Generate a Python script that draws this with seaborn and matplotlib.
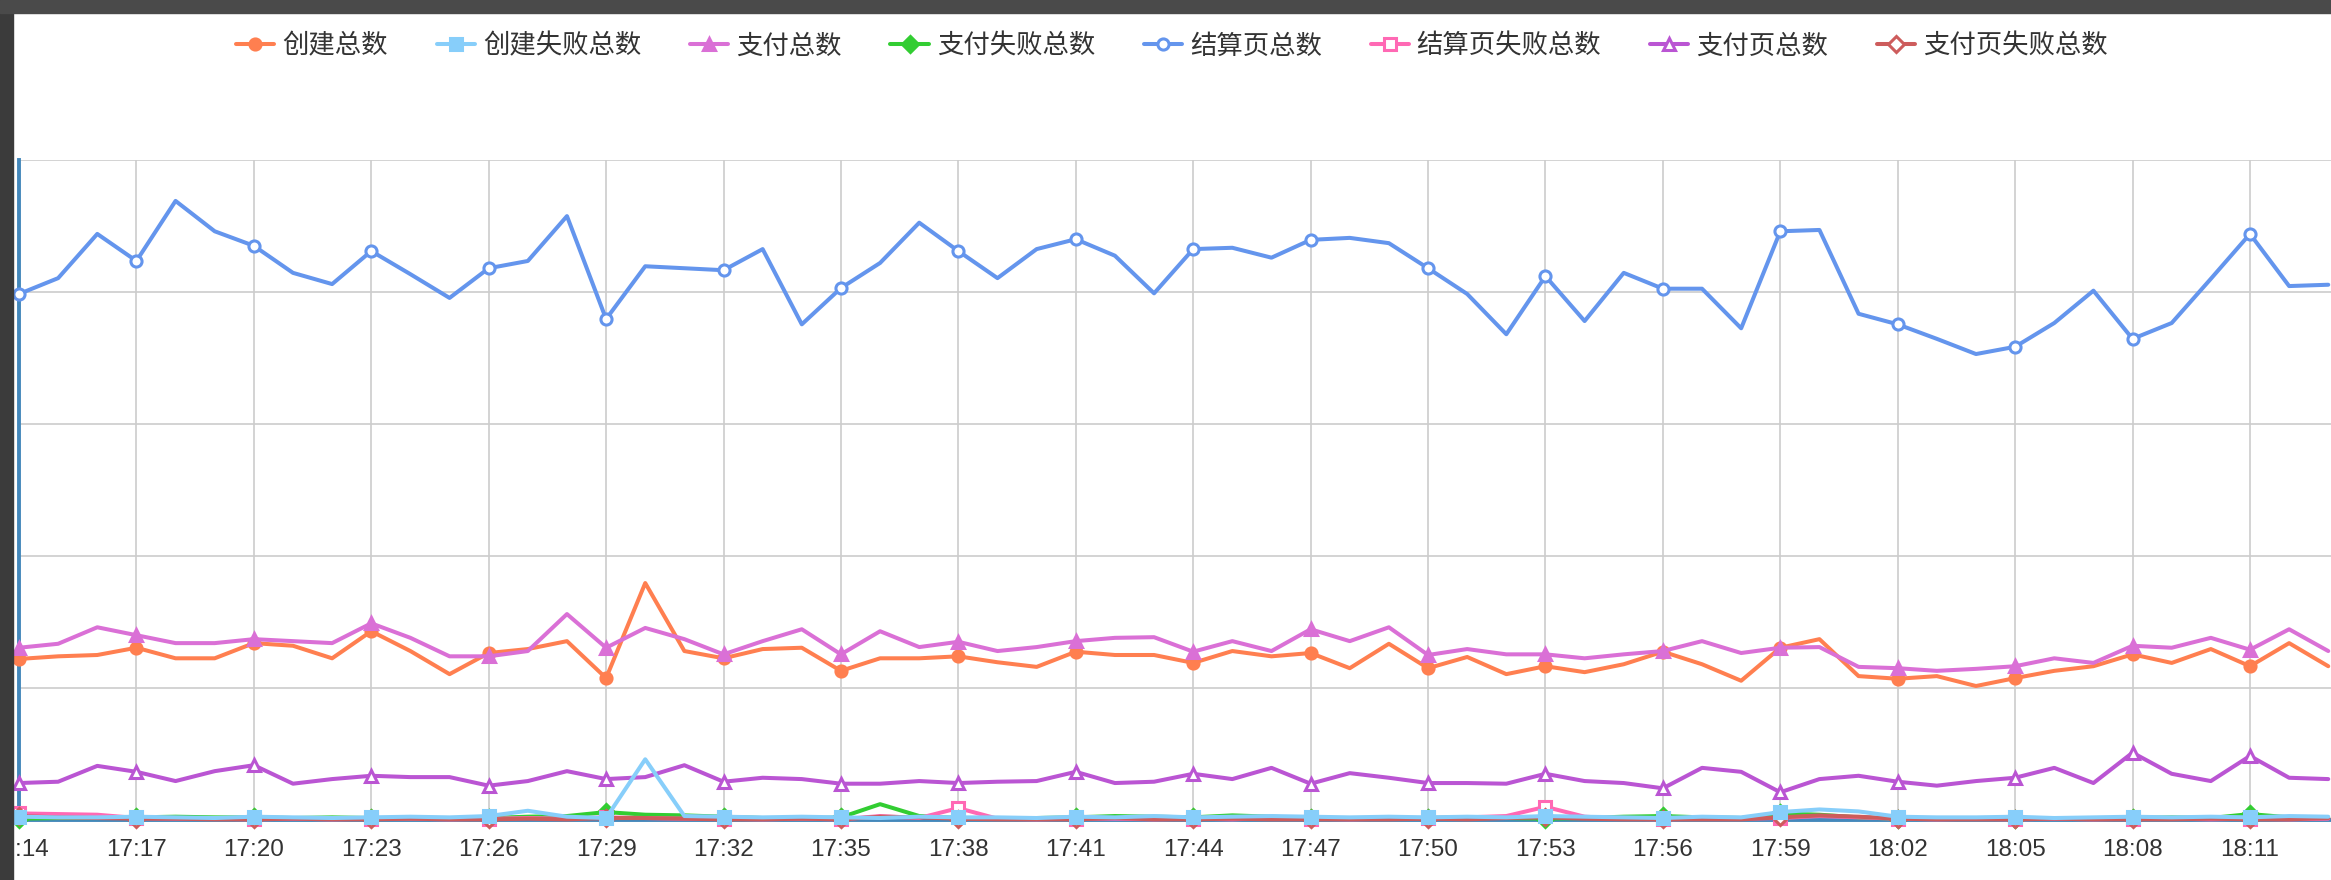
import numpy as np
import pandas as pd
import matplotlib
matplotlib.use("Agg")
import matplotlib.pyplot as plt
from matplotlib.patches import Rectangle
import seaborn as sns

# --- datos (un punto por minuto, 17:14 -> 18:13) ---
minutos = pd.date_range("2000-01-01 17:14", periods=60, freq="min").strftime("%H:%M").tolist()

chuangjian_zongshu = [244, 248, 250, 261, 245, 245, 268, 264, 245, 286, 256, 221, 253, 259, 271, 215, 359, 256, 245, 259,
                      261, 226, 245, 245, 248, 239, 232, 255, 250, 250, 238, 256, 248, 253, 230, 267, 230, 247, 221, 233,
                      224, 236, 255, 236, 211, 261, 274, 218, 214, 218, 203, 215, 226, 233, 251, 238, 259, 233, 268, 233]
chuangjian_shibai = [5, 4, 4, 5, 4, 3, 5, 4, 3, 4, 5, 4, 6, 14, 5, 3, 92, 6, 5, 4,
                     5, 4, 3, 5, 4, 4, 3, 5, 4, 6, 4, 5, 6, 5, 4, 5, 4, 5, 4, 6,
                     5, 4, 3, 5, 4, 12, 16, 13, 5, 4, 4, 5, 3, 4, 5, 4, 5, 4, 6, 5]
zhifu_zongshu = [261, 267, 292, 280, 268, 268, 274, 271, 268, 298, 276, 248, 248, 256, 312, 261, 291, 274, 251, 271,
                 289, 251, 286, 262, 270, 256, 262, 271, 276, 277, 255, 271, 256, 289, 271, 292, 250, 259, 251, 251,
                 245, 251, 256, 271, 253, 261, 262, 232, 230, 226, 229, 233, 245, 238, 264, 261, 276, 258, 289, 256]
zhifu_shibai = [2, 3, 3, 4, 5, 4, 4, 3, 4, 3, 2, 3, 3, 5, 6, 12, 8, 7, 5, 3,
                2, 4, 24, 6, 3, 2, 3, 4, 6, 5, 4, 7, 5, 3, 3, 2, 3, 4, 3, 2,
                3, 5, 6, 4, 3, 10, 8, 4, 2, 2, 3, 2, 3, 2, 3, 4, 3, 9, 4, 3]
jiesuanye_zongshu = [797, 821, 888, 847, 938, 892, 870, 829, 812, 862, 827, 791, 836, 847, 915, 759, 839, 836, 833, 865,
                     751, 806, 844, 905, 862, 821, 865, 880, 855, 798, 865, 867, 852, 879, 882, 874, 836, 797, 736, 824,
                     756, 829, 805, 805, 745, 892, 894, 767, 751, 729, 706, 717, 753, 802, 729, 753, 820, 888, 809, 811]
jiesuanye_shibai = [10, 9, 8, 3, 2, 2, 1, 2, 1, 2, 2, 1, 2, 3, 2, 4, 3, 2, 2, 1,
                    2, 1, 6, 3, 18, 2, 1, 2, 2, 1, 2, 1, 3, 2, 1, 2, 3, 4, 6, 20,
                    5, 2, 1, 2, 2, 3, 6, 4, 2, 1, 2, 1, 2, 1, 2, 2, 1, 2, 1, 2]
zhifuye_zongshu = [56, 58, 82, 73, 59, 74, 83, 55, 62, 67, 65, 65, 52, 59, 74, 62, 65, 83, 58, 64,
                   62, 55, 55, 59, 56, 58, 59, 73, 56, 58, 70, 62, 79, 55, 71, 64, 56, 56, 55, 70,
                   59, 56, 48, 79, 73, 42, 62, 67, 58, 52, 59, 64, 79, 56, 102, 70, 59, 97, 64, 62]
zhifuye_shibai = [6, 4, 3, 2, 2, 1, 1, 2, 1, 1, 2, 1, 1, 2, 1, 3, 3, 2, 1, 1,
                  2, 1, 5, 4, 2, 1, 1, 1, 3, 1, 1, 2, 1, 1, 1, 1, 2, 1, 3, 4,
                  2, 1, 1, 1, 1, 4, 7, 5, 2, 1, 1, 1, 2, 1, 1, 1, 2, 1, 1, 3]

nombres = ["创建总数", "创建失败总数", "支付总数", "支付失败总数",
           "结算页总数", "结算页失败总数", "支付页总数", "支付页失败总数"]
series = [chuangjian_zongshu, chuangjian_shibai, zhifu_zongshu, zhifu_shibai,
          jiesuanye_zongshu, jiesuanye_shibai, zhifuye_zongshu, zhifuye_shibai]
colores = ["#ff7f50", "#87cefa", "#da70d6", "#32cd32", "#6495ed", "#ff69b4", "#ba55d3", "#cd5c5c"]
marcadores = ["o", "s", "^", "D", "o", "s", "^", "D"]
vacios = [False, False, False, False, True, True, True, True]
capas = [3, 5, 3, 3, 3, 3, 3, 3]  # la serie celeste queda encima en la base

# --- estilo ---
sns.set_theme(style="white")
plt.rcParams["font.family"] = ["Noto Sans CJK SC", "DejaVu Sans"]

W, H = 2331, 880
fig = plt.figure(figsize=(W / 100, H / 100), dpi=100)
fig.patch.set_facecolor("white")

x0, y_top, y_bot = 19, 160, 820
ax = fig.add_axes([x0 / W, (H - y_bot) / H, (W - x0) / W, (y_bot - y_top) / H])

x = np.arange(len(minutos))
for nombre, valores, color, m, vacio, z in zip(nombres, series, colores, marcadores, vacios, capas):
    sns.lineplot(x=x, y=valores, ax=ax, color=color, lw=2.9, marker=m, markevery=3,
                 markersize=8, markeredgewidth=2.2, markeredgecolor=color,
                 markerfacecolor="white" if vacio else color,
                 label=nombre, clip_on=False, zorder=z)

ax.set_xlim(0, (W - x0) / 39.14)
ax.set_ylim(0, 1000)
ax.set_yticks(np.arange(0, 1001, 200))
ax.set_yticklabels([])
ax.tick_params(axis="y", length=0)
ax.set_xticks(x[::3])
ax.set_xticklabels(minutos[::3], fontfamily="Liberation Sans", fontsize=17.5, color="#333333")
ax.tick_params(axis="x", length=7, width=1, color="#666666", pad=7)
ax.grid(True, color="#cccccc", lw=1.2)
ax.set_axisbelow(True)
ax.set_xlabel("")
ax.set_ylabel("")
for lado in ["top", "right"]:
    ax.spines[lado].set_visible(False)
for lado in ["left", "bottom"]:
    ax.spines[lado].set_color("#4488bb")
    ax.spines[lado].set_linewidth(2.8)

leyenda = ax.get_legend()
if leyenda is not None:
    leyenda.remove()
handles, labels = ax.get_legend_handles_labels()
leg = fig.legend(handles, labels, loc="center", bbox_to_anchor=(1172 / W, 1 - 46 / H), ncol=8,
                 frameon=False, fontsize=19, handlelength=1.45, handletextpad=0.3, columnspacing=1.85)
for t in leg.get_texts():
    t.set_color("#333333")

# marco oscuro de la captura
fig.add_artist(Rectangle((0, 0), 13 / W, 1, transform=fig.transFigure, color="#3b3b3b", zorder=100))
fig.add_artist(Rectangle((0, 1 - 13 / H), 1, 13 / H, transform=fig.transFigure, color="#4a4a4a", zorder=100))

fig.savefig("out.png", dpi=100, facecolor=fig.get_facecolor())
